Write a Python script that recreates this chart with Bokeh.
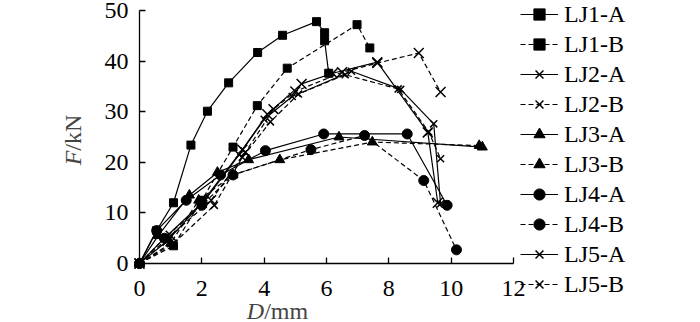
from bokeh.plotting import figure
from bokeh.models import Legend, LegendItem, Label, FixedTicker
from bokeh.embed import file_html
from bokeh.resources import INLINE
import math

# ---- data ----
lj1a_x = [0, 0.55, 1.09, 1.65, 2.18, 2.86, 3.79, 4.59, 5.68, 5.94, 5.94, 6.07]
lj1a_y = [0, 6.5, 12.0, 23.4, 30.1, 35.7, 41.7, 45.1, 47.8, 45.6, 44.0, 37.6]
lj1b_x = [0, 1.09, 2.0, 3.0, 3.78, 4.74, 6.98, 7.39]
lj1b_y = [0, 3.5, 12.5, 23.0, 31.2, 38.6, 47.2, 42.6]
lj2a_x = [0, 0.9, 2.0, 3.3, 4.1, 5.2, 6.2, 7.63, 9.25, 9.57]
lj2a_y = [0, 4.5, 12.0, 22.5, 29.5, 35.5, 37.6, 39.8, 25.9, 12.0]
lj2b_x = [0, 1.0, 2.3, 3.4, 4.3, 5.0, 6.5, 7.63, 8.96, 9.66]
lj2b_y = [0, 5.5, 12.5, 22.0, 30.5, 34.0, 37.8, 39.6, 41.6, 33.9]
lj3a_x = [0, 0.6, 1.6, 2.5, 3.5, 6.4, 11.0]
lj3a_y = [0, 5.5, 13.5, 18.0, 20.5, 25.0, 23.0]
lj3b_x = [0, 1.0, 1.9, 3.0, 4.5, 7.47, 10.9]
lj3b_y = [0, 4.0, 12.5, 17.5, 20.5, 24.0, 23.3]
lj4a_x = [0, 0.55, 1.5, 2.6, 4.04, 5.91, 8.59, 9.87]
lj4a_y = [0, 6.5, 12.5, 17.5, 22.3, 25.6, 25.6, 11.5]
lj4b_x = [0, 0.8, 2.0, 3.0, 5.5, 7.22, 9.12, 10.17]
lj4b_y = [0, 5.0, 11.5, 17.5, 22.5, 25.3, 16.4, 2.7]
lj5a_x = [0, 0.8, 2.1, 3.2, 4.0, 4.9, 6.8, 8.38, 9.44, 9.66]
lj5a_y = [0, 5.0, 12.5, 21.5, 28.5, 33.0, 38.0, 34.4, 27.6, 11.8]
lj5b_x = [0, 1.1, 2.4, 3.3, 4.2, 5.1, 6.6, 8.3, 9.28, 9.66]
lj5b_y = [0, 4.0, 11.5, 21.0, 28.0, 33.5, 37.3, 34.5, 26.0, 20.7]

labels = ["LJ1-A", "LJ1-B", "LJ2-A", "LJ2-B", "LJ3-A", "LJ3-B",
          "LJ4-A", "LJ4-B", "LJ5-A", "LJ5-B"]
x_ticks = [0, 2, 4, 6, 8, 10, 12]
y_ticks = [0, 10, 20, 30, 40, 50]

series = [
    (lj1a_x, lj1a_y, "solid", "square", 8),
    (lj1b_x, lj1b_y, "dashed", "square", 8),
    (lj2a_x, lj2a_y, "solid", "x", 14),
    (lj2b_x, lj2b_y, "dashed", "x", 14),
    (lj3a_x, lj3a_y, "solid", "triangle", 10),
    (lj3b_x, lj3b_y, "dashed", "triangle", 10),
    (lj4a_x, lj4a_y, "solid", "circle", 10),
    (lj4b_x, lj4b_y, "dashed", "circle", 10),
    (lj5a_x, lj5a_y, "solid", "x", 10),
    (lj5b_x, lj5b_y, "dashed", "x", 10),
]

FONT = "'Liberation Serif'"
W, H = 700, 322
PX_X = 31.167          # pixels per x unit
PX_Y = 5.06            # pixels per y unit
X_START = -139 / PX_X  # data x at left edge of canvas
Y_START = -59 / PX_Y   # data y at bottom edge of canvas

p = figure(width=W, height=H,
           x_range=(X_START, X_START + W / PX_X),
           y_range=(Y_START, Y_START + H / PX_Y),
           output_backend="svg", toolbar_location=None,
           min_border=0)
p.title.visible = False
p.outline_line_color = None
p.background_fill_color = "white"
p.border_fill_color = "white"
p.xgrid.visible = False
p.ygrid.visible = False

for ax in (p.xaxis[0], p.yaxis[0]):
    ax.fixed_location = 0
    ax.axis_line_color = "black"
    ax.axis_line_width = 1.3
    ax.major_tick_line_color = "black"
    ax.major_tick_line_width = 1.3
    ax.major_tick_in = 6
    ax.major_tick_out = 0
    ax.minor_tick_line_color = None
    ax.major_label_text_font = FONT
    ax.major_label_text_font_size = "24px"
    ax.major_label_text_color = "black"

p.xaxis[0].ticker = FixedTicker(ticks=x_ticks)
p.yaxis[0].ticker = FixedTicker(ticks=y_ticks)
p.xaxis[0].bounds = (0, 12)
p.yaxis[0].bounds = (0, 50)
p.xaxis[0].major_label_standoff = 17
p.yaxis[0].major_label_standoff = 11

items = []
for (xs, ys, dash, marker, size), lab in zip(series, labels):
    dash_s = "5 3" if dash == "dashed" else "solid"
    lr = p.line(xs, ys, line_color="black", line_width=1.2, line_dash=dash_s)
    if marker == "x":
        sr = p.scatter(xs, ys, marker=marker, size=size, line_color="black",
                       line_width=1.5)
    else:
        sr = p.scatter(xs, ys, marker=marker, size=size, fill_color="black",
                       line_color="black")
    items.append(LegendItem(label=lab, renderers=[lr, sr]))

legend = Legend(items=items, location=(520, 24),
                glyph_width=38, glyph_height=28, label_height=28,
                spacing=2, padding=0, margin=0, label_standoff=6,
                label_text_font=FONT, label_text_font_size="24px",
                label_text_color="black",
                border_line_color=None, background_fill_alpha=0)
p.add_layout(legend)

# axis titles
p.add_layout(Label(x=4.0, y=-9.4, text="D", text_font=FONT,
                   text_font_size="24px", text_font_style="italic",
                   text_align="right", text_baseline="alphabetic"))
p.add_layout(Label(x=4.0, y=-9.4, text="/mm", text_font=FONT,
                   text_font_size="24px",
                   text_align="left", text_baseline="alphabetic"))
p.add_layout(Label(x=-2.12, y=22.3, text="F", text_font=FONT,
                   text_font_size="24px", text_font_style="italic",
                   angle=math.pi / 2,
                   text_align="right", text_baseline="alphabetic"))
p.add_layout(Label(x=-2.12, y=22.3, text="/kN", text_font=FONT,
                   text_font_size="24px", angle=math.pi / 2,
                   text_align="left", text_baseline="alphabetic"))

open("out.html", "w").write(file_html(p, INLINE))
